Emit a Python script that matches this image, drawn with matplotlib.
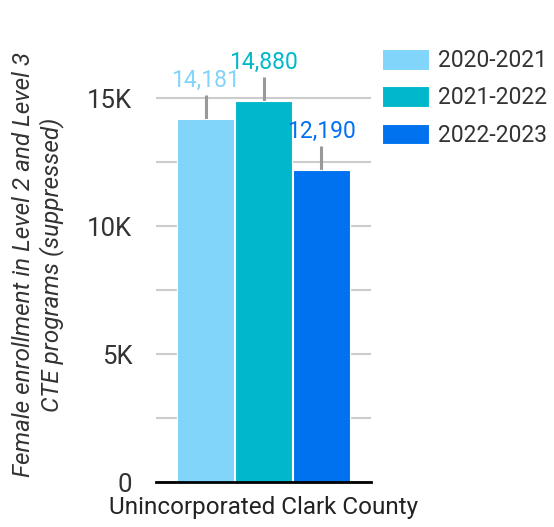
import matplotlib
matplotlib.use("Agg")
import matplotlib.pyplot as plt
import numpy as np

plt.rcParams['font.family'] = ['Roboto', 'DejaVu Sans']

category = "Unincorporated Clark County"
series = ["2020-2021", "2021-2022", "2022-2023"]
values = [14181, 14880, 12190]
errors = [940, 940, 940]
colors = ["#81D4FA", "#00B8C9", "#0072F0"]
yticks = [0, 5000, 10000, 15000]
ytick_labels = ["0", "5K", "10K", "15K"]
ylabel = "Female enrollment in Level 2 and Level 3\nCTE programs (suppressed)"

fig = plt.figure(figsize=(5.54, 5.27), dpi=100)
ax = fig.add_axes([156/554, 1-482/527, 215/554, (482-59.6)/527])

width = 0.266
offsets = (np.arange(len(series)) - 1) * 0.268
handles = []
for i, (s, v, e, c) in enumerate(zip(series, values, errors, colors)):
    x = offsets[i]
    ax.plot([x, x], [v, v + e], color="#999999", lw=2.2, zorder=2, solid_capstyle='butt')
    b = ax.bar(x, v, width=width, color=c, edgecolor="white", linewidth=0.8, zorder=3, label=s)
    handles.append(b)
    ax.annotate(f"{v:,}", (x, v + e), xytext=(0, 2), textcoords="offset points",
                ha="center", va="bottom", color=c, fontsize=16.5, zorder=4, annotation_clip=False)

ax.set_xlim(-0.5, 0.5)
ax.set_ylim(0, 16500)
ax.set_yticks(yticks)
ax.set_yticklabels(ytick_labels)
ax.set_yticks(np.arange(2500, 16500, 5000), minor=True)
ax.grid(axis="y", which="both", color="#cccccc", lw=1.5, zorder=0)
ax.set_axisbelow(True)
ax.tick_params(axis="y", which="both", length=0, pad=17, labelsize=18.5, labelcolor="#333333")
ax.set_xticks([0])
ax.set_xticklabels([category])
ax.tick_params(axis="x", length=0, pad=10, labelsize=17.5, labelcolor="#222222")
for sp in ["top", "right", "left"]:
    ax.spines[sp].set_visible(False)
ax.spines["bottom"].set_color("black")
ax.spines["bottom"].set_linewidth(2)
ax.spines["bottom"].set_zorder(5)

ax.set_ylabel(ylabel, fontsize=17.5, style="italic", color="#333333", linespacing=1.2)
ax.yaxis.set_label_coords(-0.43, 0.515)

leg = fig.legend(handles=handles, labels=series, loc="upper left",
                 bbox_to_anchor=(382/554, 1-49/527), frameon=False,
                 fontsize=16.5, handlelength=2.05, handleheight=1.0,
                 handletextpad=0.4, labelspacing=0.62, borderaxespad=0, borderpad=0)
for t in leg.get_texts():
    t.set_color("#333333")

fig.savefig("out.png", dpi=100)
